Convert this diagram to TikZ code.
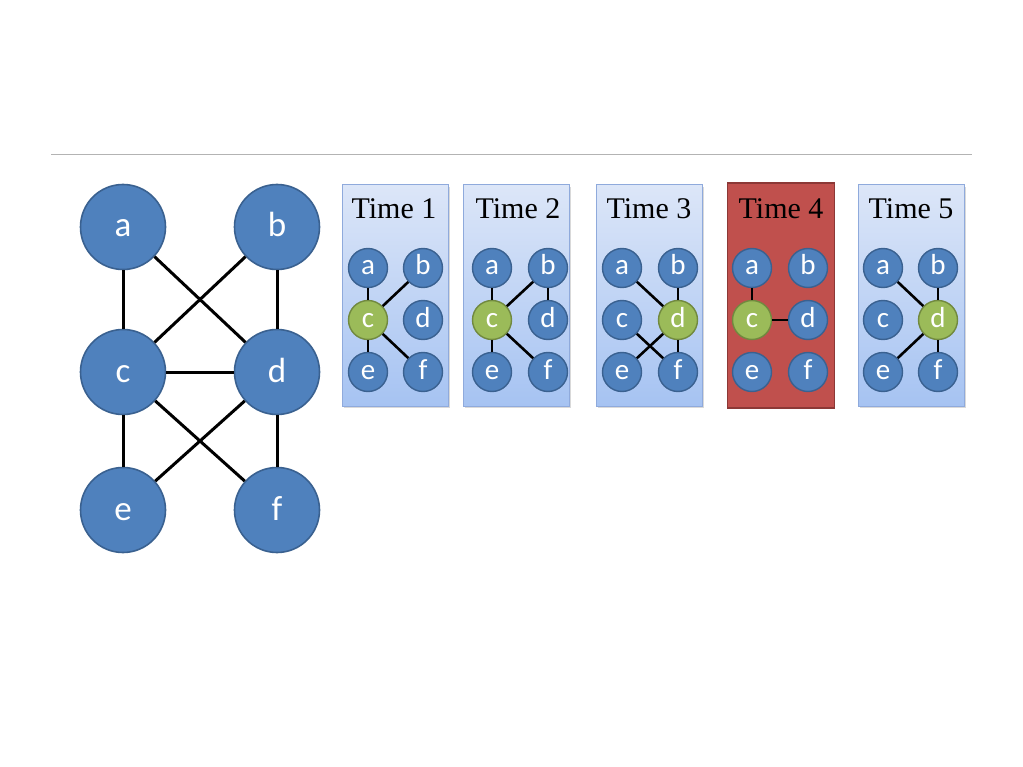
\documentclass[tikz,border=0pt]{standalone}
\usepackage{fontspec}
\setmainfont{Liberation Serif}
\newfontfamily\nodefont{Carlito}
\definecolor{nblue}{HTML}{4F81BD}
\definecolor{nbluedk}{HTML}{3A6190}
\definecolor{ngreen}{HTML}{9BBB59}
\definecolor{ngreendk}{HTML}{71893F}
\definecolor{pred}{HTML}{C0504D}
\definecolor{preddk}{HTML}{8C3836}
\definecolor{ptop}{HTML}{DCE6F8}
\definecolor{pbot}{HTML}{A6C3F2}
\definecolor{pborder}{HTML}{8FAADC}
\definecolor{rulegray}{HTML}{B3B3B3}
\tikzset{
  bignode/.style={circle, draw=nbluedk, line width=1.6pt, fill=nblue, minimum size=85pt, inner sep=0pt, text=white, text height=20pt, text depth=0pt, font=\nodefont\fontsize{35}{38}\selectfont},
  smallnode/.style={circle, draw=nbluedk, line width=1.4pt, fill=nblue, minimum size=39pt, inner sep=0pt, text=white, text height=14pt, text depth=0pt, font=\nodefont\fontsize{29}{32}\selectfont},
  hot/.style={fill=ngreen, draw=ngreendk},
  edge/.style={draw=black, line width=3pt},
  sedge/.style={draw=black, line width=2.6pt},
  panelbox/.style={rectangle, draw=pborder, line width=1pt, top color=ptop, bottom color=pbot, minimum width=106pt, minimum height=221pt, inner sep=0pt},
  redbox/.style={rectangle, draw=preddk, line width=1.4pt, fill=pred, minimum width=107pt, minimum height=225pt, inner sep=0pt},
  shadowbox/.style={rectangle, fill=black!15, minimum width=106pt, minimum height=221pt, inner sep=0pt},
  title/.style={font=\fontsize{30}{33}\selectfont, text=black, inner sep=0pt}
}
\begin{document}
\begin{tikzpicture}[x=1pt, y=-1pt]
\useasboundingbox (0,0) rectangle (1023,767);
\fill[white] (0,0) rectangle (1023,767);
% horizontal rule
\coordinate (rl) at (51,154.5);
\coordinate (rr) at (972,154.5);
\draw[rulegray, line width=1.4pt] (rl) -- (rr);

% big graph
\node[bignode] (A) at (123,227) {a};
\node[bignode] (B) at (277,227) {b};
\node[bignode] (C) at (123,372) {c};
\node[bignode] (D) at (277,372) {d};
\node[bignode] (E) at (123,510) {e};
\node[bignode] (F) at (277,510) {f};
\draw[edge] (A) -- (C);
\draw[edge] (A) -- (D);
\draw[edge] (B) -- (C);
\draw[edge] (B) -- (D);
\draw[edge] (C) -- (D);
\draw[edge] (C) -- (E);
\draw[edge] (C) -- (F);
\draw[edge] (D) -- (E);
\draw[edge] (D) -- (F);

% panels
\node[shadowbox] (s1) at (396.5,297.5) {};
\node[shadowbox] (s2) at (517.5,297.5) {};
\node[shadowbox] (s3) at (651,297.5) {};
\node[shadowbox] (s5) at (912.5,297.5) {};
\node[panelbox] (P1) at (395,295.5) {};
\node[panelbox] (P2) at (516,295.5) {};
\node[panelbox] (P3) at (649.5,295.5) {};
\node[redbox] (P4) at (781,295.5) {};
\node[panelbox] (P5) at (911,295.5) {};

\node[title] (T1) at (394,209) {Time 1};
\node[title] (T2) at (518,209) {Time 2};
\node[title] (T3) at (649,209) {Time 3};
\node[title] (T4) at (781,209) {Time 4};
\node[title] (T5) at (911,209) {Time 5};

% panel 1
\node[smallnode] (p1a) at (368,268) {a};
\node[smallnode] (p1b) at (423,268) {b};
\node[smallnode, hot] (p1c) at (368,320) {c};
\node[smallnode] (p1d) at (423,320) {d};
\node[smallnode] (p1e) at (368,372) {e};
\node[smallnode] (p1f) at (423,372) {f};
\draw[sedge] (p1a) -- (p1c);
\draw[sedge] (p1b) -- (p1c);
\draw[sedge] (p1c) -- (p1e);
\draw[sedge] (p1c) -- (p1f);

% panel 2
\node[smallnode] (p2a) at (492,268) {a};
\node[smallnode] (p2b) at (548,268) {b};
\node[smallnode, hot] (p2c) at (492,320) {c};
\node[smallnode] (p2d) at (548,320) {d};
\node[smallnode] (p2e) at (492,372) {e};
\node[smallnode] (p2f) at (548,372) {f};
\draw[sedge] (p2a) -- (p2c);
\draw[sedge] (p2b) -- (p2c);
\draw[sedge] (p2b) -- (p2d);
\draw[sedge] (p2c) -- (p2e);
\draw[sedge] (p2c) -- (p2f);

% panel 3
\node[smallnode] (p3a) at (622,268) {a};
\node[smallnode] (p3b) at (678,268) {b};
\node[smallnode] (p3c) at (622,320) {c};
\node[smallnode, hot] (p3d) at (678,320) {d};
\node[smallnode] (p3e) at (622,372) {e};
\node[smallnode] (p3f) at (678,372) {f};
\draw[sedge] (p3a) -- (p3d);
\draw[sedge] (p3b) -- (p3d);
\draw[sedge] (p3c) -- (p3f);
\draw[sedge] (p3d) -- (p3e);
\draw[sedge] (p3d) -- (p3f);

% panel 4
\node[smallnode] (p4a) at (752,268) {a};
\node[smallnode] (p4b) at (808,268) {b};
\node[smallnode, hot] (p4c) at (752,320) {c};
\node[smallnode] (p4d) at (808,320) {d};
\node[smallnode] (p4e) at (752,372) {e};
\node[smallnode] (p4f) at (808,372) {f};
\draw[sedge] (p4a) -- (p4c);
\draw[sedge] (p4c) -- (p4d);

% panel 5
\node[smallnode] (p5a) at (883,268) {a};
\node[smallnode] (p5b) at (938,268) {b};
\node[smallnode] (p5c) at (883,320) {c};
\node[smallnode, hot] (p5d) at (938,320) {d};
\node[smallnode] (p5e) at (883,372) {e};
\node[smallnode] (p5f) at (938,372) {f};
\draw[sedge] (p5a) -- (p5d);
\draw[sedge] (p5b) -- (p5d);
\draw[sedge] (p5d) -- (p5e);
\draw[sedge] (p5d) -- (p5f);
\end{tikzpicture}
\end{document}
